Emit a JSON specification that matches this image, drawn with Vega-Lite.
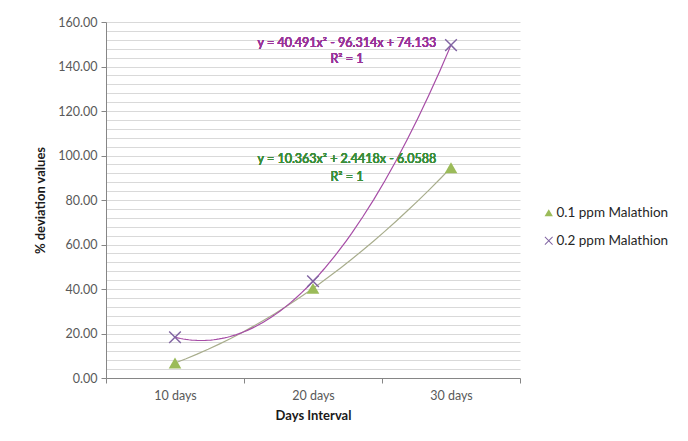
{
  "$schema": "https://vega.github.io/schema/vega-lite/v6.json",
  "width": 414,
  "height": 356,
  "autosize": {"type": "none"},
  "padding": {"left": 106, "top": 22, "right": 168, "bottom": 63},
  "background": "white",
  "config": {
    "view": {"stroke": null},
    "font": "Lato",
    "axis": {"labelFont": "Lato", "titleFont": "Lato"},
    "legend": {
      "labelFont": "Lato",
      "labelFontSize": 13.5,
      "labelColor": "#262626",
      "symbolSize": 70,
      "rowPadding": 13,
      "labelOffset": 1,
      "orient": "none",
      "legendX": 436,
      "legendY": 184
    }
  },
  "data": {
    "values": [
      {"day": "10 days", "idx": 1, "series": "0.1 ppm Malathion", "value": 6.75},
      {"day": "20 days", "idx": 2, "series": "0.1 ppm Malathion", "value": 40.28},
      {"day": "30 days", "idx": 3, "series": "0.1 ppm Malathion", "value": 94.53},
      {"day": "10 days", "idx": 1, "series": "0.2 ppm Malathion", "value": 18.31},
      {"day": "20 days", "idx": 2, "series": "0.2 ppm Malathion", "value": 43.47},
      {"day": "30 days", "idx": 3, "series": "0.2 ppm Malathion", "value": 149.61}
    ]
  },
  "layer": [
    {
      "transform": [
        {"filter": "datum.series === '0.1 ppm Malathion'"},
        {"regression": "value", "on": "idx", "method": "poly", "order": 2, "extent": [1, 3]}
      ],
      "mark": {"type": "line", "strokeWidth": 1.2, "clip": false, "color": "#a8ad8c"},
      "encoding": {
        "x": {
          "field": "idx", "type": "quantitative",
          "scale": {"domain": [0.5, 3.5], "nice": false, "zero": false},
          "axis": {
            "values": [0.5, 1, 1.5, 2, 2.5, 3, 3.5],
            "tickCount": 100,
            "labelExpr": "datum.value === 1 ? '10 days' : datum.value === 2 ? '20 days' : datum.value === 3 ? '30 days' : ''",
            "labelOverlap": false,
            "tickOpacity": {"condition": {"test": "datum.value % 1 !== 0", "value": 1}, "value": 0},
            "grid": false,
            "title": "Days Interval",
            "titleFontSize": 13,
            "titleFontWeight": "bold",
            "titleColor": "#1a1a1a",
            "titlePadding": 8,
            "labelFontSize": 12.5,
            "labelColor": "#595959",
            "labelPadding": 6,
            "domainColor": "#868686",
            "domainWidth": 1,
            "tickColor": "#868686",
            "tickSize": 5
          }
        },
        "y": {
          "field": "value", "type": "quantitative",
          "scale": {"domain": [0, 160], "nice": false},
          "axis": {
            "values": [0, 4, 8, 12, 16, 20, 24, 28, 32, 36, 40, 44, 48, 52, 56, 60, 64, 68, 72, 76, 80, 84, 88, 92, 96, 100, 104, 108, 112, 116, 120, 124, 128, 132, 136, 140, 144, 148, 152, 156, 160],
            "tickCount": 100,
            "labelExpr": "datum.value % 20 === 0 ? format(datum.value, '.2f') : ''",
            "labelOverlap": false,
            "tickOpacity": {"condition": {"test": "datum.value % 20 === 0", "value": 1}, "value": 0},
            "grid": true,
            "gridColor": "#d9d9d9",
            "gridWidth": 1.2,
            "title": "% deviation values",
            "titleFontSize": 13,
            "titleFontWeight": "bold",
            "titleColor": "#1a1a1a",
            "titlePadding": 10,
            "labelFontSize": 12.5,
            "labelColor": "#595959",
            "labelPadding": 4,
            "domainColor": "#868686",
            "tickColor": "#868686",
            "tickSize": 5
          }
        }
      }
    },
    {
      "transform": [
        {"filter": "datum.series === '0.2 ppm Malathion'"},
        {"regression": "value", "on": "idx", "method": "poly", "order": 2, "extent": [1, 3]}
      ],
      "mark": {"type": "line", "strokeWidth": 1.2, "clip": false, "color": "#a64ca6"},
      "encoding": {
        "x": {"field": "idx", "type": "quantitative"},
        "y": {"field": "value", "type": "quantitative"}
      }
    },
    {
      "mark": {"type": "point", "filled": true, "opacity": 1, "size": 160},
      "encoding": {
        "x": {"field": "idx", "type": "quantitative"},
        "y": {"field": "value", "type": "quantitative"},
        "shape": {
          "field": "series", "type": "nominal",
          "scale": {"domain": ["0.1 ppm Malathion", "0.2 ppm Malathion"], "range": ["triangle-up", "M-1,-0.84L-0.84,-1L0,-0.16L0.84,-1L1,-0.84L0.16,0L1,0.84L0.84,1L0,0.16L-0.84,1L-1,0.84L-0.16,0Z"]},
          "legend": {"title": null}
        },
        "color": {
          "field": "series", "type": "nominal",
          "scale": {"domain": ["0.1 ppm Malathion", "0.2 ppm Malathion"], "range": ["#9bbb59", "#8064a2"]},
          "legend": {"title": null}
        }
      }
    },
    {
      "mark": {"type": "text", "text": "y = 40.491x² - 96.314x + 74.133", "color": "#993399", "fontSize": 12.5, "align": "center", "baseline": "middle"},
      "encoding": {"x": {"datum": 2.246}, "y": {"datum": 150.6}}
    },
    {
      "mark": {"type": "text", "text": "R² = 1", "color": "#993399", "fontSize": 12.5, "align": "center", "baseline": "middle"},
      "encoding": {"x": {"datum": 2.246}, "y": {"datum": 143.4}}
    },
    {
      "mark": {"type": "text", "text": "y = 10.363x² + 2.4418x - 6.0588", "color": "#3a8e3a", "fontSize": 12.5, "align": "center", "baseline": "middle"},
      "encoding": {"x": {"datum": 2.246}, "y": {"datum": 98.4}}
    },
    {
      "mark": {"type": "text", "text": "R² = 1", "color": "#3a8e3a", "fontSize": 12.5, "align": "center", "baseline": "middle"},
      "encoding": {"x": {"datum": 2.246}, "y": {"datum": 90.3}}
    }
  ]
}
